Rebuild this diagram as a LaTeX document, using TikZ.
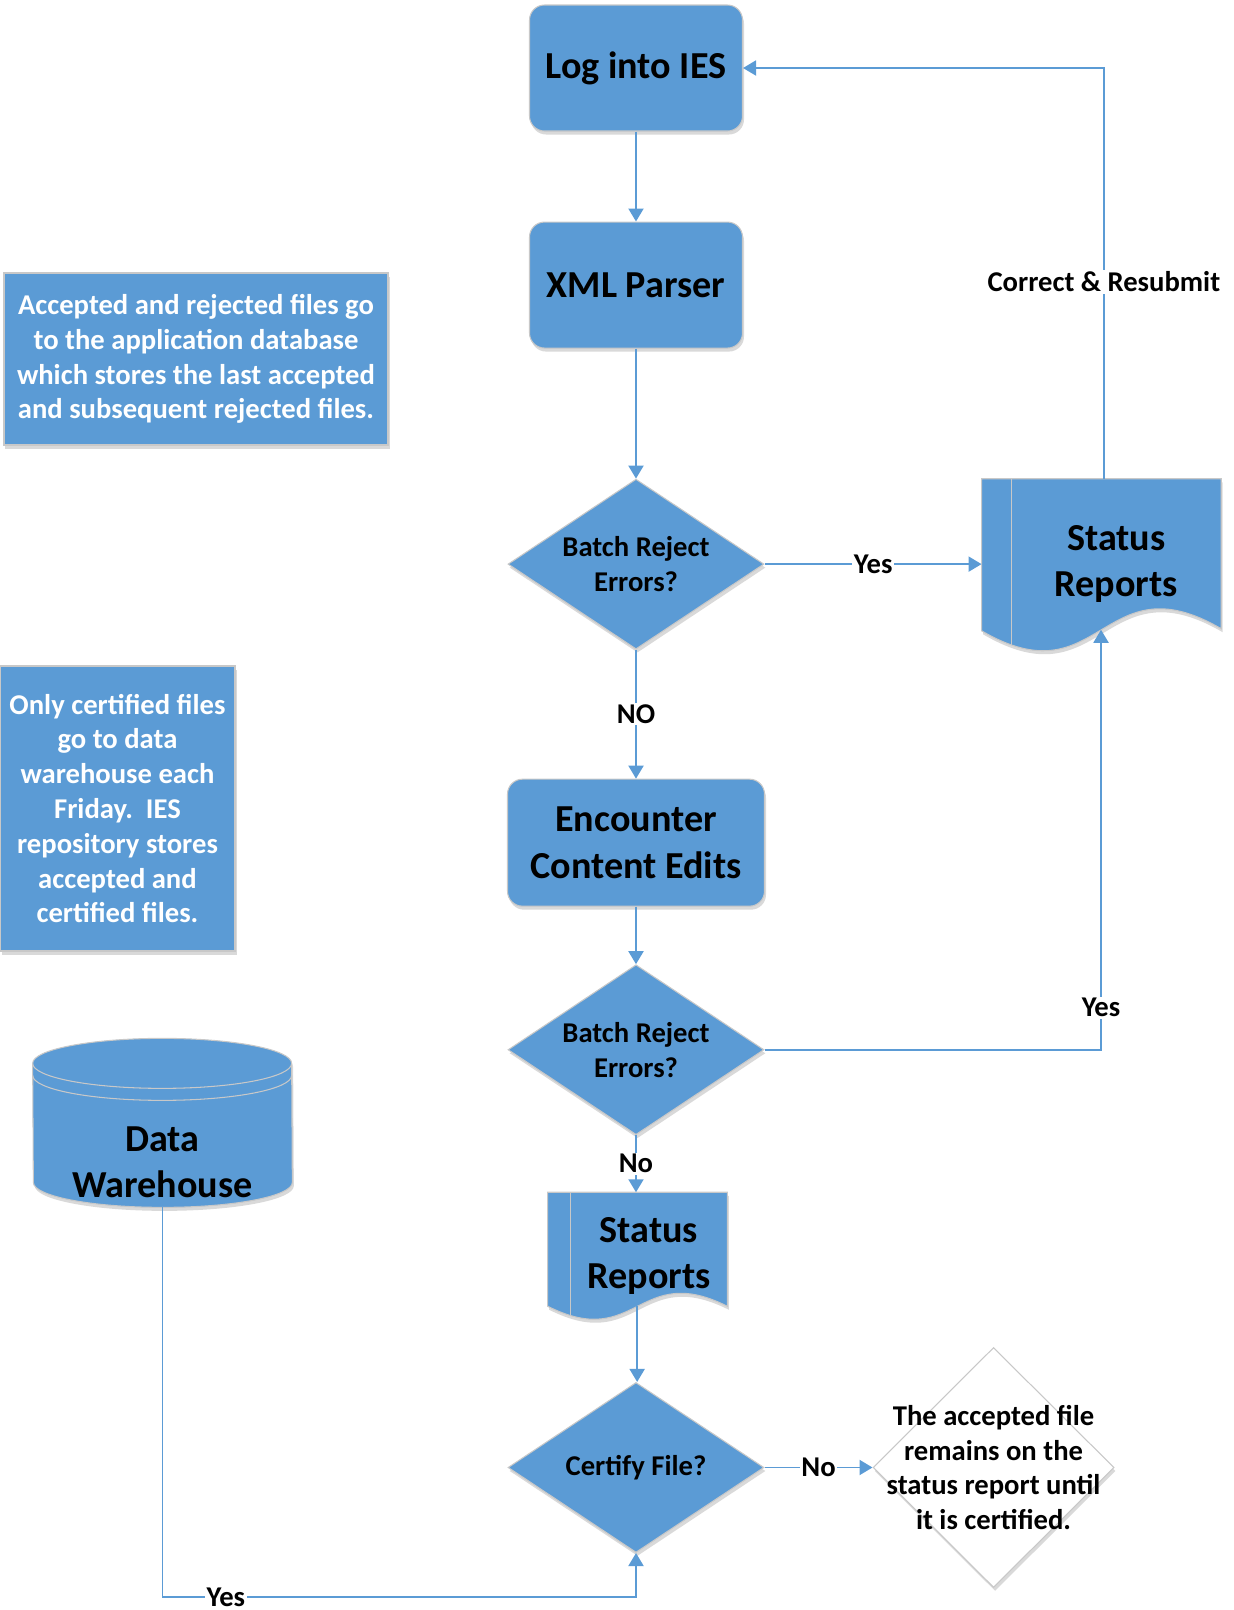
\documentclass[tikz,border=0pt]{standalone}
\usepackage{fontspec}
\setmainfont{Carlito}
\usetikzlibrary{positioning}
\usetikzlibrary{shapes.geometric}
\usetikzlibrary{arrows.meta}
\usetikzlibrary{calc}
\usetikzlibrary{backgrounds}
\usetikzlibrary{shadows}
\definecolor{flowblue}{RGB}{91,155,213}
\definecolor{edgegrey}{RGB}{200,200,200}

\begin{document}
\begin{tikzpicture}[
  font=\bfseries\fontsize{16.3}{19.8}\selectfont,
  big/.style={font=\bfseries\fontsize{21.7}{26.3}\selectfont},
  soft/.style={drop shadow={shadow xshift=0.03cm, shadow yshift=-0.07cm, fill=black, opacity=0.15}},
  box/.style={draw=edgegrey, line width=0.6pt, fill=flowblue, rounded corners=0.3cm, align=center, big, soft},
  decision/.style={diamond, draw=edgegrey, line width=0.6pt, fill=flowblue, aspect=1.5, inner sep=0pt, align=center, minimum width=5.12cm, minimum height=3.4cm, soft},
  docnode/.style={align=center, big, inner sep=0pt},
  docfill/.style={draw=edgegrey, line width=0.6pt, fill=flowblue, soft},
  note/.style={draw=edgegrey, line width=0.6pt, fill=flowblue, text=white, align=center, soft},
  conn/.style={draw=flowblue, line width=1.1pt, -{Triangle[length=0.26cm, width=0.3cm]}},
  lbl/.style={fill=white, inner sep=1pt}
]
\useasboundingbox (0,0) rectangle (24.68,-32.2);

% Main column
\node[box, minimum width=4.26cm, minimum height=2.52cm] (log) at (12.72,-1.36) {Log into IES};
\node[box, below=1.8cm of log, minimum width=4.26cm, minimum height=2.52cm] (xml) {XML Parser};
\node[decision, below=2.6cm of xml] (d1) {Batch Reject\\Errors?};
\node[box, below=2.58cm of d1, minimum width=5.14cm, minimum height=2.54cm] (enc) {Encounter\\Content Edits};
\node[decision, below=1.15cm of enc] (d2) {Batch Reject\\Errors?};
\node[docnode, below=1.14cm of d2, xshift=0.26cm, minimum width=3.12cm, minimum height=2.54cm] (sr2) {Status\\Reports};
\node[decision, below=1.24cm of sr2, xshift=-0.26cm] (d3) {Certify File?};

% Side shapes
\node[docnode, right=4.94cm of d1, minimum width=4.18cm, minimum height=3.4cm] (sr1) {Status\\Reports};
\node[diamond, draw=edgegrey, line width=0.6pt, fill=white, inner sep=0pt, minimum width=4.82cm, minimum height=4.8cm, soft,
  right=2.16cm of d3, label={[align=center]center:{The accepted file\\remains on the\\status report until\\it is certified.}}] (wd) {};
\node[big, align=center, minimum width=5.18cm, minimum height=1.8cm, inner sep=0pt] (dw) at (3.25,-23.24) {Data\\Warehouse};

% Notes
\node[note, minimum width=7.68cm, minimum height=3.44cm] (tb1) at (3.92,-7.18)
{Accepted and rejected files go\\to the application database\\which stores the last accepted\\and subsequent rejected files.};
\node[note, minimum width=4.7cm, minimum height=5.7cm] (tb2) at (2.35,-16.17)
{Only certified files\\go to data\\warehouse each\\Friday.~~IES\\repository stores\\accepted and\\certified files.};

% Document and cylinder outlines
\begin{scope}[on background layer]
\path[docfill] ($(sr1.north west)+(-0.6,0)$) -- (sr1.north east) -- ($(sr1.north east)+(0,-3.0)$)
  .. controls +(-2.39,1.4) and +(2.39,-1.4) .. ($(sr1.north west)+(-0.6,-3.04)$) -- cycle;
\draw[edgegrey, line width=0.6pt] (sr1.north west) -- ++(0,-3.32);
\path[docfill] ($(sr2.north west)+(-0.46,0)$) -- (sr2.north east) -- ($(sr2.north east)+(0,-2.28)$)
  .. controls +(-1.79,0.9) and +(1.79,-0.9) .. ($(sr2.north west)+(-0.46,-2.28)$) -- cycle;
\draw[edgegrey, line width=0.6pt] (sr2.north west) -- ++(0,-2.47);
\path[docfill] ($(dw.south west)+(0,2.88)$) arc[start angle=180, end angle=0, x radius=2.59cm, y radius=0.5cm]
  -- ($(dw.south east)+(0,0.5)$) arc[start angle=0, end angle=-180, x radius=2.59cm, y radius=0.5cm] -- cycle;
\draw[edgegrey, line width=0.6pt] ($(dw.south west)+(0,2.88)$) arc[start angle=180, end angle=360, x radius=2.59cm, y radius=0.5cm];
\draw[edgegrey, line width=0.6pt] ($(dw.south west)+(0,2.64)$) arc[start angle=180, end angle=360, x radius=2.59cm, y radius=0.5cm];
\end{scope}

\coordinate (sr1in) at ($(sr1.north west)+(1.79,-3.02)$);
\coordinate (sr2out) at ($(sr2.north west)+(1.33,-2.28)$);

% Connectors
\draw[conn] (log) -- (xml);
\draw[conn] (xml) -- (d1);
\draw[conn] (d1) -- node[lbl]{NO} (enc);
\draw[conn] (enc) -- (d2);
\draw[conn] (d2.south) -- node[lbl]{No} (d2.south |- sr2.north);
\draw[conn] (sr2out) -- (sr2out |- d3.north);
\draw[conn] (d3) -- node[lbl]{No} (wd);
\draw[conn, shorten >=0.6cm] (d1.east) -- node[lbl, pos=0.44]{Yes} (sr1.west);
\draw[conn] ([xshift=-0.25cm]sr1.north) |- node[lbl, pos=0.24]{Correct \& Resubmit} (log.east);
\draw[conn] (d2.east) -| node[lbl, pos=0.55]{Yes} (sr1in);
\draw[conn] (dw.south) |- node[lbl, pos=0.567]{Yes} ([yshift=-0.88cm]d3.south) -- (d3.south);

\end{tikzpicture}
\end{document}
